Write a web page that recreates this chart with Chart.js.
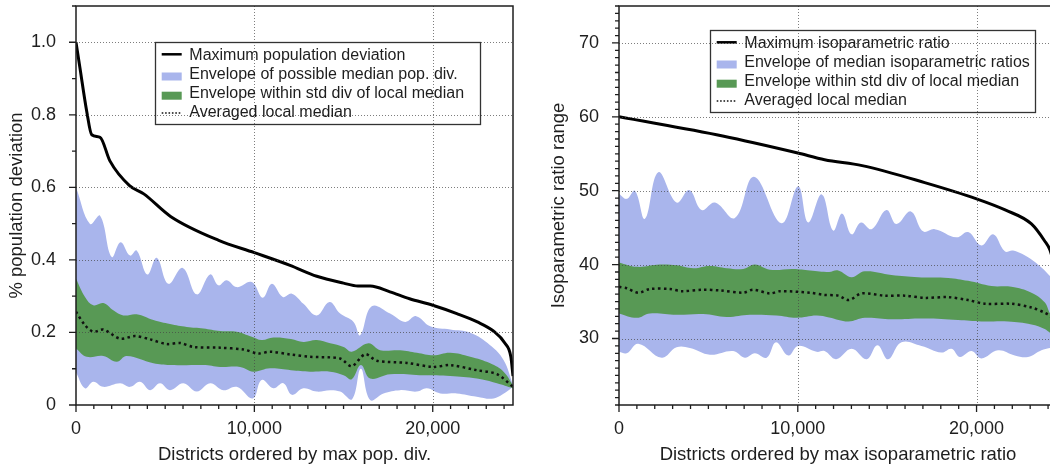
<!DOCTYPE html>
<html>
<head>
<meta charset="utf-8">
<title>Population deviation / isoparametric ratio</title>
<script src="https://cdn.jsdelivr.net/npm/chart.js@4.4.1/dist/chart.umd.min.js"></script>
<style>
  html, body { margin: 0; padding: 0; background: #fff; overflow: hidden; }
  #wrap { position: relative; width: 1050px; height: 468px; overflow: hidden; }
  #left { position: absolute; left: 0; top: 0; }
  #right { position: absolute; left: 520px; top: 0; }
</style>
</head>
<body>
<div id="wrap">
  <canvas id="left" width="520" height="468"></canvas>
  <canvas id="right" width="540" height="468"></canvas>
</div>
<script>
/* ===== Left panel: population deviation ===== */
const popLabels = ['Maximum population deviation', 'Envelope of possible median pop. div.',
  'Envelope within std div of local median', 'Averaged local median'];
const popXTicks = [0, 10000, 20000];
const popYTicks = [0, 0.2, 0.4, 0.6, 0.8, 1.0];

const popMaxX = [0, 220, 600, 880, 1350, 1900, 3000, 3800, 5300, 8000, 10000, 12000, 13500, 15000, 15800, 16500, 17600, 18700, 20000, 21350, 22500, 23400, 24050, 24380, 24500];
const popMaxY = [1.0, 0.93, 0.81, 0.745, 0.738, 0.673, 0.605, 0.582, 0.52, 0.454, 0.42, 0.385, 0.355, 0.336, 0.328, 0.328, 0.312, 0.293, 0.275, 0.252, 0.229, 0.204, 0.17, 0.133, 0.08];

const popBlueUpX = [0, 785, 1350, 2000, 2500, 3030, 3400, 4000, 4525, 5180, 5980, 6770, 7520, 7980, 8450, 9010, 9850, 10470, 10980, 11590, 12100, 12750, 13500, 14210, 14810, 15560, 15930, 16580, 17610, 18450, 19070, 19860, 20980, 22100, 23220, 23970, 24500];
const popBlueUpY = [0.60, 0.499, 0.522, 0.408, 0.449, 0.412, 0.426, 0.36, 0.406, 0.334, 0.378, 0.305, 0.36, 0.33, 0.344, 0.325, 0.339, 0.296, 0.334, 0.298, 0.307, 0.279, 0.247, 0.284, 0.252, 0.229, 0.192, 0.272, 0.252, 0.229, 0.245, 0.217, 0.208, 0.199, 0.165, 0.124, 0.055];

const popBlueLowX = [0, 500, 970, 1530, 2470, 3030, 3590, 4150, 4710, 5270, 6020, 6770, 7520, 8260, 9010, 9910, 10410, 11070, 11630, 12100, 12750, 13500, 14250, 14810, 15480, 15970, 16490, 17240, 18170, 19110, 19670, 20420, 21350, 22470, 23410, 24160, 24500];
const popBlueLowY = [0.09, 0.046, 0.064, 0.05, 0.06, 0.05, 0.064, 0.041, 0.06, 0.041, 0.06, 0.037, 0.06, 0.041, 0.05, 0.018, 0.069, 0.046, 0.06, 0.028, 0.046, 0.037, 0.041, 0.037, 0.016, 0.10, 0.014, 0.032, 0.041, 0.037, 0.046, 0.032, 0.032, 0.023, 0.018, 0.037, 0.05];

const popGreenUpX = [0, 505, 970, 1530, 2090, 2650, 3400, 4340, 5270, 6210, 7140, 8080, 9010, 9850, 10410, 11070, 12050, 12750, 13500, 14250, 15000, 15460, 16400, 17050, 18170, 19110, 20040, 20980, 22100, 23220, 23970, 24500];
const popGreenUpY = [0.348, 0.298, 0.275, 0.281, 0.261, 0.247, 0.25, 0.234, 0.223, 0.215, 0.211, 0.204, 0.202, 0.188, 0.179, 0.186, 0.182, 0.174, 0.179, 0.17, 0.16, 0.147, 0.17, 0.151, 0.151, 0.144, 0.137, 0.144, 0.133, 0.115, 0.092, 0.055];

const popGreenLowX = [0, 600, 1530, 2280, 2840, 4340, 5270, 7140, 8080, 9200, 9950, 10880, 12050, 13130, 14250, 15000, 15460, 15970, 16490, 17610, 19480, 20980, 22470, 23600, 24500];
const popGreenLowY = [0.156, 0.133, 0.135, 0.119, 0.135, 0.115, 0.11, 0.11, 0.105, 0.105, 0.092, 0.101, 0.096, 0.092, 0.092, 0.082, 0.071, 0.11, 0.073, 0.085, 0.082, 0.08, 0.073, 0.06, 0.046];

const popMedX = [0, 505, 970, 1530, 2470, 3310, 4150, 5090, 5830, 6580, 8080, 9390, 10230, 10880, 12050, 13130, 14810, 15460, 16210, 16860, 18550, 20040, 20980, 22470, 23600, 24500];
const popMedY = [0.257, 0.22, 0.202, 0.208, 0.183, 0.19, 0.181, 0.168, 0.171, 0.16, 0.158, 0.153, 0.142, 0.147, 0.139, 0.133, 0.128, 0.107, 0.14, 0.122, 0.116, 0.105, 0.11, 0.096, 0.085, 0.05];

/* ===== Right panel: isoparametric ratio ===== */
const isoLabels = ['Maximum isoparametric ratio', 'Envelope of median isoparametric ratios',
  'Envelope within std div of local median', 'Averaged local median'];
const isoXTicks = [0, 10000, 20000];
const isoYTicks = [30, 40, 50, 60, 70];

const isoMaxX = [0, 5800, 10000, 11500, 13600, 17100, 20000, 21600, 23070, 23810, 24100, 24500];
const isoMaxY = [60, 57.4, 55.1, 54.2, 53.4, 51.1, 48.9, 47.4, 45.5, 43.2, 42.0, 38.5];

const isoBlueUpX = [0, 430, 890, 1450, 2200, 3220, 3930, 4620, 5370, 6480, 7550, 9090, 10020, 10580, 11340, 11980, 12480, 13010, 13530, 14130, 14960, 15520, 16320, 17010, 17660, 18870, 19530, 20270, 20930, 21580, 22040, 22880, 23630, 24090, 24500];
const isoBlueUpY = [49.6, 48.9, 50.0, 46.2, 52.5, 48.4, 50.1, 47.4, 48.4, 46.3, 51.9, 45.6, 50.6, 45.7, 49.5, 44.6, 46.9, 44.1, 45.7, 44.8, 47.4, 45.5, 47.2, 44.5, 44.8, 43.7, 44.4, 42.6, 44.1, 41.8, 41.9, 41.0, 39.6, 38.5, 37.5];

const isoBlueLowX = [0, 430, 1080, 2390, 3220, 3970, 5090, 6390, 7040, 7600, 8260, 8780, 9470, 10020, 11050, 11500, 12150, 13010, 13850, 14460, 15050, 15800, 16920, 18040, 18600, 19060, 19720, 20270, 21200, 22140, 22880, 23630, 24090, 24500];
const isoBlueLowY = [28.2, 28.0, 29.3, 27.4, 28.8, 28.7, 27.8, 28.3, 27.4, 28.0, 27.4, 29.5, 27.7, 29.0, 28.2, 28.3, 27.2, 28.6, 27.2, 29.1, 27.2, 29.5, 29.0, 28.1, 28.6, 27.5, 28.3, 27.3, 28.4, 27.7, 27.5, 28.4, 28.7, 29.0];

const isoGreenUpX = [0, 990, 2290, 3220, 4160, 5090, 6020, 6950, 7600, 8440, 9750, 10680, 11750, 12260, 13010, 13750, 15240, 16730, 18410, 19530, 20830, 21950, 23070, 23810, 24090, 24500];
const isoGreenUpY = [40.3, 39.7, 40.0, 39.9, 39.5, 39.8, 39.5, 39.4, 40.0, 39.3, 39.4, 39.2, 39.0, 39.2, 38.3, 39.1, 38.6, 38.3, 38.2, 37.8, 37.1, 37.0, 36.2, 34.9, 33.5, 32.0];

const isoGreenLowX = [0, 990, 1730, 3220, 4710, 6020, 7320, 8810, 9930, 11050, 11750, 12820, 13750, 15240, 17100, 18970, 20270, 21770, 23070, 23810, 24090, 24500];
const isoGreenLowY = [33.4, 32.8, 33.4, 33.2, 33.3, 32.9, 33.2, 33.1, 32.8, 33.1, 32.85, 32.3, 32.8, 32.6, 32.7, 32.5, 32.3, 32.3, 31.9, 31.3, 30.8, 30.0];

const isoMedX = [0, 430, 1080, 1730, 2850, 3500, 4710, 5650, 6950, 7510, 8440, 9000, 10680, 11470, 12260, 12860, 13570, 14870, 15990, 17100, 18410, 19530, 20460, 21950, 23070, 23810, 24090, 24500];
const isoMedY = [37.0, 36.8, 36.2, 36.7, 36.7, 36.4, 36.6, 36.5, 36.2, 36.6, 36.1, 36.4, 36.2, 35.9, 35.8, 35.2, 36.1, 35.8, 35.8, 35.5, 35.6, 35.2, 34.7, 34.7, 34.2, 33.5, 33.1, 32.3];

/* ===== Styles ===== */
const FONT = '"Liberation Sans", Arial, Helvetica, sans-serif';
const BLUE = 'rgb(169, 181, 236)';
const GREEN = 'rgb(88, 153, 85)';
const INK = '#1e1e1e';
const NONE = 'rgba(0,0,0,0)';

function pts(xs, ys) {
  return xs.map((x, i) => ({ x, y: ys[i] }));
}

// dataset index order: 0 max, 1 median, 2 green up, 3 green low, 4 blue up, 5 blue low
function makeDatasets(labels, s) {
  const base = { pointRadius: 0, pointHoverRadius: 0 };
  return [
    { ...base, label: labels[0], data: pts(s.maxX, s.maxY), borderColor: '#000', borderWidth: 3,
      fill: false, cubicInterpolationMode: 'monotone', order: 0 },
    { ...base, label: labels[3], data: pts(s.medX, s.medY), borderColor: '#111', borderWidth: 2.5,
      borderDash: [2.5, 3.3], fill: false, tension: 0.3, order: 1 },
    { ...base, label: labels[2], data: pts(s.gUpX, s.gUpY), borderColor: NONE, borderWidth: 0,
      backgroundColor: GREEN, fill: 3, tension: 0.4, order: 2 },
    { ...base, label: '', data: pts(s.gLowX, s.gLowY), borderColor: NONE, borderWidth: 0,
      fill: false, tension: 0.4, order: 3 },
    { ...base, label: labels[1], data: pts(s.bUpX, s.bUpY), borderColor: NONE, borderWidth: 0,
      backgroundColor: BLUE, fill: 5, tension: 0.4, order: 4 },
    { ...base, label: '', data: pts(s.bLowX, s.bLowY), borderColor: NONE, borderWidth: 0,
      fill: false, tension: 0.4, order: 5 }
  ];
}

/* grid, minor ticks, frame and the in-plot legend */
const framePlugin = {
  id: 'frame',
  afterDatasetsDraw(chart, args, opts) {
    const { ctx, chartArea: a } = chart;
    const x = chart.scales.x, y = chart.scales.y;
    ctx.save();

    // dotted grid lines at the major ticks
    ctx.strokeStyle = 'rgba(70,70,70,0.7)';
    ctx.lineWidth = 1;
    ctx.setLineDash([1, 2]);
    ctx.beginPath();
    x.ticks.forEach(t => {
      if (t.value <= x.min) return;
      const px = Math.round(x.getPixelForValue(t.value)) + 0.5;
      ctx.moveTo(px, a.top); ctx.lineTo(px, a.bottom);
    });
    y.ticks.forEach(t => {
      if (t.value <= y.min) return;
      const py = Math.round(y.getPixelForValue(t.value)) + 0.5;
      ctx.moveTo(a.left, py); ctx.lineTo(a.right, py);
    });
    ctx.stroke();
    ctx.setLineDash([]);

    // tick marks, outward
    ctx.strokeStyle = INK;
    ctx.lineWidth = 1.3;
    ctx.beginPath();
    const isMajor = (scale, v) => scale.ticks.some(t => Math.abs(t.value - v) < opts.eps);
    for (let i = Math.ceil(x.min / opts.xMinor); i * opts.xMinor <= x.max + 1e-9; i++) {
      const v = i * opts.xMinor;
      const len = isMajor(x, v) ? 7 : 4;
      const px = x.getPixelForValue(v);
      ctx.moveTo(px, a.bottom); ctx.lineTo(px, a.bottom + len);
    }
    for (let i = Math.ceil(y.min / opts.yMinor - 1e-9); i * opts.yMinor <= y.max + 1e-9; i++) {
      const v = i * opts.yMinor;
      const len = isMajor(y, v) ? 7 : 4;
      const py = y.getPixelForValue(v);
      ctx.moveTo(a.left, py); ctx.lineTo(a.left - len, py);
    }
    ctx.stroke();

    // frame
    ctx.lineWidth = 1.5;
    ctx.strokeRect(a.left, a.top, a.right - a.left, a.bottom - a.top);
    ctx.restore();
  },
  afterDraw(chart, args, opts) {
    const L = opts.legend;
    if (!L) return;
    const ctx = chart.ctx;
    const ds = chart.data.datasets;
    ctx.save();
    ctx.strokeStyle = '#333';
    ctx.lineWidth = 1.3;
    ctx.strokeRect(L.x + 0.5, L.y + 0.5, L.w, L.h);
    ctx.font = '16px ' + FONT;
    ctx.fillStyle = INK;
    ctx.textBaseline = 'alphabetic';
    ctx.textAlign = 'left';
    L.order.forEach((idx, i) => {
      const d = ds[idx];
      const base = L.y + 17.8 + i * 19.2;
      const sx = L.x + 6.7, tx = L.x + 34.3;
      if (d.fill !== false) {
        ctx.fillStyle = d.backgroundColor;
        ctx.fillRect(sx, base - 6.5, 20, 8);
      } else {
        ctx.strokeStyle = d.borderColor;
        if (d.borderDash) {
          ctx.lineWidth = 1.5;
          ctx.setLineDash([1.6, 1.8]);
        } else {
          ctx.lineWidth = 2.5;
          ctx.setLineDash([]);
        }
        const ly = d.borderDash ? base - 4.5 : base - 5.5;
        ctx.beginPath(); ctx.moveTo(sx, ly); ctx.lineTo(sx + 20, ly); ctx.stroke();
        ctx.setLineDash([]);
      }
      ctx.fillStyle = INK;
      ctx.fillText(d.label, tx, base);
    });
    ctx.restore();
  }
};

function makeChart(canvas, cfg) {
  return new Chart(canvas, {
    type: 'line',
    data: { datasets: makeDatasets(cfg.labels, cfg.series) },
    options: {
      responsive: false,
      animation: false,
      events: [],
      layout: { padding: cfg.padding },
      plugins: {
        legend: { display: false },
        tooltip: { enabled: false },
        frame: cfg.frame
      },
      scales: {
        x: {
          type: 'linear',
          min: 0,
          max: cfg.xMax,
          grid: { display: false },
          border: { display: false },
          afterBuildTicks: s => { s.ticks = cfg.xTicks.map(v => ({ value: v })); },
          afterFit: s => { s.height = cfg.xAxisHeight; s.paddingLeft = 0; s.paddingRight = 0; },
          ticks: {
            autoSkip: false, maxRotation: 0, padding: 5, color: INK,
            font: { family: FONT, size: 18 },
            callback: v => v.toLocaleString('en-US')
          },
          title: {
            display: true, text: cfg.xTitle, color: INK,
            font: { family: FONT, size: 18.5 }, padding: { top: 0, bottom: 2 }
          }
        },
        y: {
          type: 'linear',
          min: cfg.yMin,
          max: cfg.yMax,
          grid: { display: false },
          border: { display: false },
          afterBuildTicks: s => { s.ticks = cfg.yTicks.map(v => ({ value: v })); },
          afterFit: s => { s.width = cfg.yAxisWidth; s.paddingTop = 0; s.paddingBottom = 0; },
          ticks: {
            autoSkip: false, padding: 12, color: INK,
            font: { family: FONT, size: 18 },
            callback: cfg.yFormat
          },
          title: {
            display: true, text: cfg.yTitle, color: INK,
            font: { family: FONT, size: 18.5 }, padding: { top: cfg.yTitlePad, bottom: 0 }
          }
        }
      }
    },
    plugins: [framePlugin]
  });
}

makeChart(document.getElementById('left'), {
  labels: popLabels,
  series: {
    maxX: popMaxX, maxY: popMaxY, medX: popMedX, medY: popMedY,
    gUpX: popGreenUpX, gUpY: popGreenUpY, gLowX: popGreenLowX, gLowY: popGreenLowY,
    bUpX: popBlueUpX, bUpY: popBlueUpY, bLowX: popBlueLowX, bLowY: popBlueLowY
  },
  padding: { left: 0, right: 7, top: 6, bottom: 0 },
  xMax: 24500, xTicks: popXTicks, xAxisHeight: 63,
  yMin: 0, yMax: 1.1, yTicks: popYTicks, yAxisWidth: 76,
  yFormat: v => (v === 0 ? '0' : v.toFixed(1)),
  xTitle: 'Districts ordered by max pop. div.',
  yTitle: '% population deviation',
  yTitlePad: 6,
  frame: {
    xMinor: 1000, yMinor: 0.1, eps: 1e-6,
    legend: { x: 155, y: 42, w: 325, h: 82, order: [0, 4, 2, 1] }
  }
});

makeChart(document.getElementById('right'), {
  labels: isoLabels,
  series: {
    maxX: isoMaxX, maxY: isoMaxY, medX: isoMedX, medY: isoMedY,
    gUpX: isoGreenUpX, gUpY: isoGreenUpY, gLowX: isoGreenLowX, gLowY: isoGreenLowY,
    bUpX: isoBlueUpX, bUpY: isoBlueUpY, bLowX: isoBlueLowX, bLowY: isoBlueLowY
  },
  padding: { left: 0, right: 3, top: 6, bottom: 0 },
  xMax: 24500, xTicks: isoXTicks, xAxisHeight: 63,
  yMin: 21, yMax: 75, yTicks: isoYTicks, yAxisWidth: 99,
  yFormat: v => String(v),
  xTitle: 'Districts ordered by max isoparametric ratio',
  yTitle: 'Isoparametric ratio range',
  yTitlePad: 28,
  frame: {
    xMinor: 1000, yMinor: 1, eps: 1e-6,
    legend: { x: 190, y: 30, w: 325, h: 82, order: [0, 4, 2, 1] }
  }
});
</script>
</body>
</html>
